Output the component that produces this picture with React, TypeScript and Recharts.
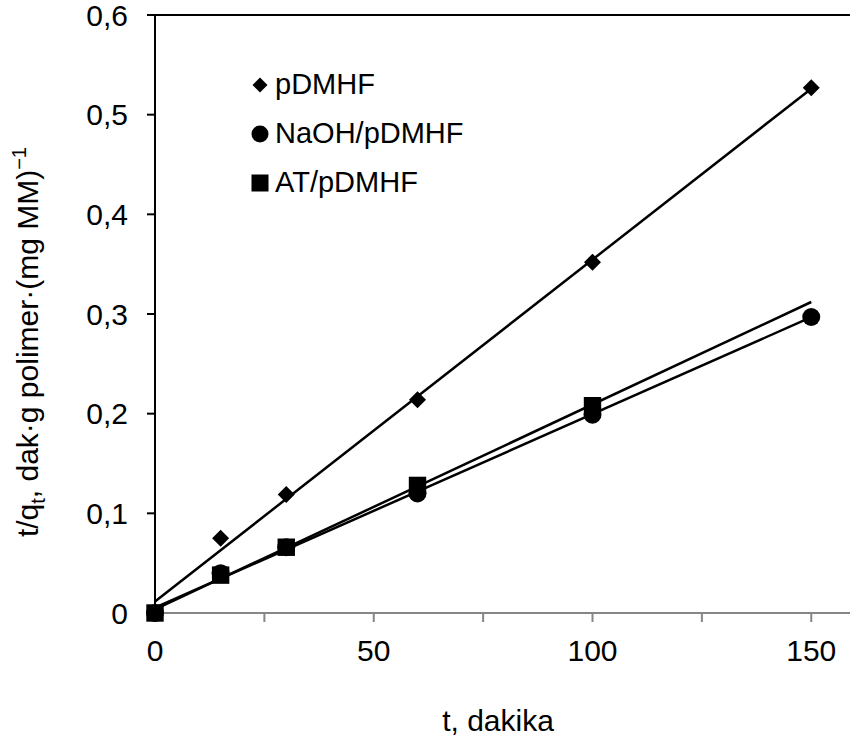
import React from 'react'
import {
  ScatterChart,
  Scatter,
  XAxis,
  YAxis,
  ReferenceLine,
  Legend,
} from 'recharts'

// measured points (t, t/qt)
const timeAll = [0, 15, 30, 60, 100, 150]
const timeAT = [0, 15, 30, 60, 100]
const pdmhfValues = [0, 0.075, 0.119, 0.214, 0.352, 0.527]
const naohValues = [0, 0.04, 0.066, 0.12, 0.199, 0.297]
const atValues = [0, 0.038, 0.066, 0.128, 0.208]

const seriesNames = ['pDMHF', 'NaOH/pDMHF', 'AT/pDMHF']
const xTicks = [0, 25, 50, 75, 100, 125, 150]
const yTicks = [0, 0.1, 0.2, 0.3, 0.4, 0.5, 0.6]
const trendRange = [0, 150]

const FONT = '"Liberation Sans", Arial, sans-serif'

const toPoints = (xs: number[], ys: number[]) => xs.map((x, i) => ({ x, y: ys[i] }))

// least squares line, drawn over the trend range like an Excel trendline
function trend(xs: number[], ys: number[]) {
  const n = xs.length
  const mx = xs.reduce((a, b) => a + b, 0) / n
  const my = ys.reduce((a, b) => a + b, 0) / n
  let sxy = 0
  let sxx = 0
  xs.forEach((x, i) => {
    sxy += (x - mx) * (ys[i] - my)
    sxx += (x - mx) * (x - mx)
  })
  const slope = sxy / sxx
  const b = my - slope * mx
  return trendRange.map(x => ({ x, y: b + slope * x }))
}

const Diamond = ({ cx, cy, r = 8.5 }: any) => (
  <polygon points={`${cx},${cy - r} ${cx + r},${cy} ${cx},${cy + r} ${cx - r},${cy}`} fill="#000" />
)
const Dot = ({ cx, cy, r = 9 }: any) => <circle cx={cx} cy={cy} r={r} fill="#000" />
const Square = ({ cx, cy, r = 8.7 }: any) => (
  <rect x={cx - r} y={cy - r} width={r * 2} height={r * 2} fill="#000" />
)
const NoShape = () => <g />

function XTick({ x, y, payload }: any) {
  if (payload.value % 50 !== 0) return <g />
  return (
    <text x={x} y={y} dy="0.71em" textAnchor="middle" fontSize={30} fill="#000" fontFamily={FONT}>
      {payload.value}
    </text>
  )
}

function XTitle() {
  return (
    <text x={498} y={731} textAnchor="middle" fontSize={30} fill="#000" fontFamily={FONT}>
      t, dakika
    </text>
  )
}

function YTitle() {
  return (
    <text
      transform="translate(38,147) rotate(-90)"
      textAnchor="end"
      fontSize={30}
      fill="#000"
      fontFamily={FONT}
    >
      t/q
      <tspan dy={7} fontSize={20}>t</tspan>
      <tspan dy={-7}>, dak·g polimer·(mg MM)</tspan>
      <tspan dy={-12} fontSize={20}>−1</tspan>
    </text>
  )
}

function ChartLegend() {
  const markers = [
    <svg width={18} height={18} key="d"><Diamond cx={9} cy={9} r={7.5} /></svg>,
    <svg width={18} height={18} key="c"><Dot cx={9} cy={9} r={8.5} /></svg>,
    <svg width={18} height={18} key="s"><Square cx={9} cy={9} r={8.5} /></svg>,
  ]
  return (
    <div style={{ fontFamily: FONT, fontSize: 29, color: '#000' }}>
      {seriesNames.map((name, i) => (
        <div key={name} style={{ display: 'flex', alignItems: 'center', height: 49, lineHeight: '49px' }}>
          {markers[i]}
          <span style={{ marginLeft: 6, whiteSpace: 'nowrap' }}>{name}</span>
        </div>
      ))}
    </div>
  )
}

export default function App() {
  return (
    <div style={{ width: 850, height: 744, overflow: 'hidden', fontFamily: FONT, background: '#fff' }}>
      <style>{'body{margin:0}'}</style>
      <ScatterChart width={855} height={744} margin={{ top: 15, right: 0, left: 0, bottom: 0 }}>
        <XAxis
          type="number"
          dataKey="x"
          domain={[0, 160]}
          ticks={xTicks}
          interval={0}
          height={131}
          tick={<XTick />}
          tickSize={9}
          tickMargin={18}
          axisLine={{ stroke: '#868686', strokeWidth: 2 }}
          tickLine={{ stroke: '#868686', strokeWidth: 2 }}
          label={<XTitle />}
        />
        <YAxis
          type="number"
          dataKey="y"
          domain={[0, 0.6]}
          ticks={yTicks}
          interval={0}
          width={155}
          tickSize={8}
          tickMargin={19}
          tickFormatter={(v: number) => String(v).replace('.', ',')}
          tick={{ fill: '#000', fontSize: 30, fontFamily: FONT }}
          axisLine={{ stroke: '#000', strokeWidth: 2 }}
          tickLine={{ stroke: '#000', strokeWidth: 2 }}
          label={<YTitle />}
        />
        <ReferenceLine y={0.6} stroke="#000" strokeWidth={2} />
        <Scatter
          data={trend(timeAll, pdmhfValues)}
          line={{ stroke: '#000', strokeWidth: 2.5 }}
          shape={<NoShape />}
          isAnimationActive={false}
          legendType="none"
        />
        <Scatter
          data={trend(timeAll, naohValues)}
          line={{ stroke: '#000', strokeWidth: 2.5 }}
          shape={<NoShape />}
          isAnimationActive={false}
          legendType="none"
        />
        <Scatter
          data={trend(timeAT, atValues)}
          line={{ stroke: '#000', strokeWidth: 2.5 }}
          shape={<NoShape />}
          isAnimationActive={false}
          legendType="none"
        />
        <Scatter name={seriesNames[0]} data={toPoints(timeAll, pdmhfValues)} shape={<Diamond />} isAnimationActive={false} />
        <Scatter name={seriesNames[1]} data={toPoints(timeAll, naohValues)} shape={<Dot />} isAnimationActive={false} />
        <Scatter name={seriesNames[2]} data={toPoints(timeAT, atValues)} shape={<Square />} isAnimationActive={false} />
        <Legend
          layout="vertical"
          align="center"
          verticalAlign="middle"
          content={<ChartLegend />}
          wrapperStyle={{ top: 60, left: 251, width: 'auto', height: 'auto' }}
        />
      </ScatterChart>
    </div>
  )
}
